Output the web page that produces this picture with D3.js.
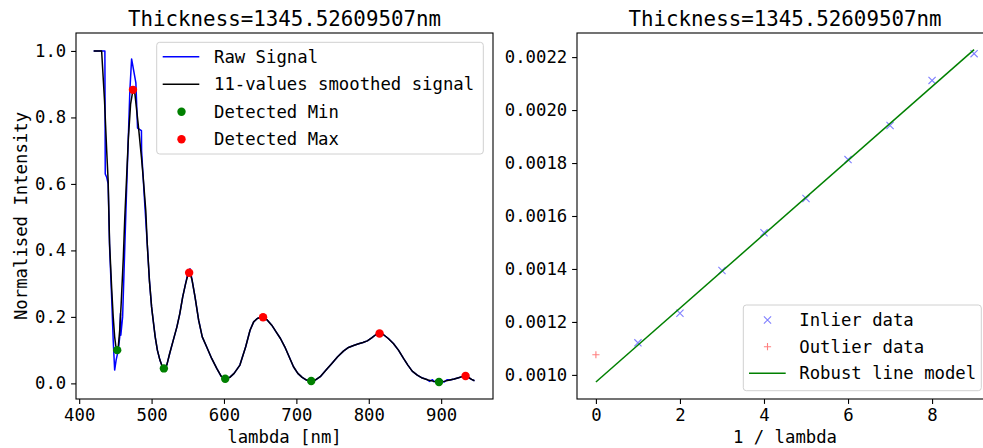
<!DOCTYPE html>
<html><head><meta charset="utf-8">
<script src="https://cdn.jsdelivr.net/npm/d3@7"></script>
<style>
html,body{margin:0;padding:0;background:#fff;}
svg{display:block;font-family:"DejaVu Sans Mono",monospace;}
</style></head>
<body>
<svg id="chart" width="983" height="448"></svg>
<script>
const titleText = "Thickness=1345.52609507nm";
// Left panel: spectrum
const rawLambda = [420,435.5,436,438,440,442,445,447,449,451,454,456,457,457.5,460,465,470,472.4,478.3,480.6,486,486.2,490,494,497,500,502.2,505,508,511.5,514,517,521,525,530,535,539,543,547,550,553,556,560,565,570,576,583,590,596,602,608,614,622,630,636,641,646,650,654,660,666,672,678,684,690,696,702,708,714,720,726,733,741,749,757,765,772,779,786,792,798,804,810,815,820,827,834,841,848,854,860,867,874,880,884,888,890,894,897,901,904,908,912,918,924,930,934,938,942,946];
const rawValue  = [1.0,1.0,0.63,0.62,0.60,0.41,0.25,0.13,0.04,0.07,0.10,0.14,0.21,0.145,0.20,0.55,0.88,0.976,0.904,0.768,0.76,0.70,0.56,0.42,0.31,0.23,0.19,0.14,0.10,0.07,0.055,0.045,0.055,0.09,0.13,0.17,0.21,0.26,0.30,0.33,0.345,0.31,0.26,0.19,0.14,0.11,0.075,0.045,0.022,0.014,0.018,0.03,0.055,0.11,0.16,0.185,0.195,0.198,0.2,0.19,0.175,0.155,0.135,0.11,0.08,0.05,0.03,0.018,0.01,0.007,0.01,0.02,0.04,0.06,0.08,0.097,0.108,0.114,0.119,0.123,0.128,0.137,0.147,0.152,0.147,0.135,0.12,0.10,0.075,0.055,0.037,0.025,0.016,0.012,0.006,0.011,0.005,0.009,0.003,0.008,0.004,0.011,0.01,0.013,0.017,0.021,0.023,0.017,0.012,0.008];
const smoothLambda = [420,431,435,438,440,442,445,447,449,451,452.5,454,456,458,461,463,465.5,468,471,474.3,477,481.5,486,488.4,492,494,497,500,502.2,505,508,511.5,514,517,521,525,530,535,539,543,547,550,553,556,560,565,570,576,583,590,596,602,608,614,622,630,636,641,646,650,654,660,666,672,678,684,690,696,702,708,714,720,726,733,741,749,757,765,772,779,786,792,798,804,810,815,820,827,834,841,848,854,860,867,874,882,890,897,904,912,918,924,930,934,938,942,946];
const smoothValue  = [1.0,1.0,0.85,0.70,0.61,0.42,0.28,0.20,0.14,0.105,0.10,0.11,0.16,0.24,0.38,0.50,0.62,0.74,0.84,0.883,0.87,0.78,0.68,0.62,0.52,0.42,0.31,0.23,0.19,0.14,0.10,0.07,0.055,0.045,0.055,0.09,0.13,0.17,0.21,0.26,0.30,0.325,0.333,0.31,0.26,0.19,0.14,0.11,0.075,0.045,0.022,0.014,0.018,0.03,0.055,0.11,0.16,0.185,0.195,0.198,0.199,0.19,0.175,0.155,0.135,0.11,0.08,0.05,0.03,0.018,0.01,0.007,0.01,0.02,0.04,0.06,0.08,0.097,0.108,0.114,0.119,0.123,0.128,0.137,0.147,0.15,0.147,0.135,0.12,0.10,0.075,0.055,0.037,0.025,0.016,0.01,0.006,0.004,0.006,0.01,0.013,0.017,0.021,0.022,0.018,0.012,0.008];
const minLambda = [452.5,517,601.7,720.5,897];
const minValue  = [0.10,0.045,0.014,0.007,0.004];
const maxLambda = [474.3,551.9,654,814.9,933.7];
const maxValue  = [0.883,0.333,0.199,0.15,0.022];
const leftXTicks = [400,500,600,700,800,900];
const leftYTicks = [0.0,0.2,0.4,0.6,0.8,1.0];
const leftLegend = ["Raw Signal","11-values smoothed signal","Detected Min","Detected Max"];
// Right panel: robust fit
const inlierX = [1,2,3,4,5,6,7,8,9];
const inlierY = [0.001121,0.001233,0.001394,0.001537,0.001666,0.001813,0.001942,0.002112,0.002213];
const outlierX = [0];
const outlierY = [0.001076];
const modelX = [0,9];
const modelY = [0.000973,0.002228];
const rightXTicks = [0,2,4,6,8];
const rightYTicks = [0.0010,0.0012,0.0014,0.0016,0.0018,0.0020,0.0022];
const rightLegend = ["Inlier data","Outlier data","Robust line model"];

const svg = d3.select("#chart");
const FS = 17.3;

function frame(x0,x1,y0,y1){
  svg.append("rect").attr("x",x0).attr("y",y0).attr("width",x1-x0).attr("height",y1-y0)
    .attr("fill","none").attr("stroke","#000").attr("stroke-width",1.1);
}
function axes(xs, ys, xt, yt, xf, yf, y1, x0){
  const gx = svg.append("g").attr("transform",`translate(0,${y1})`)
    .call(d3.axisBottom(xs).tickValues(xt).tickFormat(xf).tickSize(4.9).tickPadding(4.9));
  const gy = svg.append("g").attr("transform",`translate(${x0},0)`)
    .call(d3.axisLeft(ys).tickValues(yt).tickFormat(yf).tickSize(4.9).tickPadding(4.9));
  [gx,gy].forEach(g=>{
    g.select(".domain").remove();
    g.selectAll("line").attr("stroke","#000").attr("stroke-width",1.1);
    g.selectAll("text").attr("font-family","DejaVu Sans Mono").attr("font-size",FS).attr("fill","#000");
  });
}

// ---------- Left panel ----------
const L = {x0:76,x1:493,y0:33,y1:399};
const xL = d3.scaleLinear().domain([395.6,971.6]).range([L.x0,L.x1]);
const yL = d3.scaleLinear().domain([-0.047,1.054]).range([L.y1,L.y0]);
svg.append("defs").append("clipPath").attr("id","clipL").append("rect")
  .attr("x",L.x0).attr("y",L.y0).attr("width",L.x1-L.x0).attr("height",L.y1-L.y0);
const gL = svg.append("g").attr("clip-path","url(#clipL)");
const lineL = d3.line().x(d=>xL(d[0])).y(d=>yL(d[1]));
gL.append("path").datum(rawLambda.map((l,i)=>[l,rawValue[i]])).attr("d",lineL)
  .attr("fill","none").attr("stroke","#0000ff").attr("stroke-width",1.5).attr("stroke-linejoin","round");
gL.append("path").datum(smoothLambda.map((l,i)=>[l,smoothValue[i]])).attr("d",lineL)
  .attr("fill","none").attr("stroke","#000").attr("stroke-width",1.5).attr("stroke-linejoin","round");
gL.selectAll(".mn").data(minLambda.map((l,i)=>[l,minValue[i]])).enter().append("circle")
  .attr("cx",d=>xL(d[0])).attr("cy",d=>yL(d[1])).attr("r",4.2).attr("fill","#008000");
gL.selectAll(".mx").data(maxLambda.map((l,i)=>[l,maxValue[i]])).enter().append("circle")
  .attr("cx",d=>xL(d[0])).attr("cy",d=>yL(d[1])).attr("r",4.2).attr("fill","#ff0000");
frame(L.x0,L.x1,L.y0,L.y1);
axes(xL,yL,leftXTicks,leftYTicks,d3.format("d"),d3.format(".1f"),L.y1,L.x0);
svg.append("text").attr("x",(L.x0+L.x1)/2).attr("y",26).attr("text-anchor","middle")
  .attr("font-size",20.8).text(titleText);
svg.append("text").attr("x",(L.x0+L.x1)/2).attr("y",443).attr("text-anchor","middle")
  .attr("font-size",FS).text("lambda [nm]");
svg.append("text").attr("transform",`translate(27,${(L.y0+L.y1)/2}) rotate(-90)`).attr("text-anchor","middle")
  .attr("font-size",FS).text("Normalised Intensity");

// left legend
const lg = svg.append("g");
lg.append("rect").attr("x",156.7).attr("y",42.3).attr("width",326.6).attr("height",111.7).attr("rx",3)
  .attr("fill","#fff").attr("fill-opacity",0.8).attr("stroke","#d0d0d0").attr("stroke-width",1);
const lgY = [56.7,84.3,111.7,139.3];
lg.append("line").attr("x1",162.7).attr("x2",199.3).attr("y1",lgY[0]).attr("y2",lgY[0]).attr("stroke","#0000ff").attr("stroke-width",1.5);
lg.append("line").attr("x1",162.7).attr("x2",199.3).attr("y1",lgY[1]).attr("y2",lgY[1]).attr("stroke","#000").attr("stroke-width",1.5);
lg.append("circle").attr("cx",181.5).attr("cy",lgY[2]).attr("r",4.2).attr("fill","#008000");
lg.append("circle").attr("cx",181.5).attr("cy",lgY[3]).attr("r",4.2).attr("fill","#ff0000");
leftLegend.forEach((t,i)=>lg.append("text").attr("x",214).attr("y",lgY[i]+6).attr("font-size",FS).text(t));

// ---------- Right panel ----------
const R = {x0:577,x1:993,y0:33,y1:399};
const xR = d3.scaleLinear().domain([-0.45,9.45]).range([R.x0,R.x1]);
const yR = d3.scaleLinear().domain([0.000909,0.002291]).range([R.y1,R.y0]);
svg.select("defs").append("clipPath").attr("id","clipR").append("rect")
  .attr("x",R.x0).attr("y",R.y0).attr("width",R.x1-R.x0).attr("height",R.y1-R.y0);
const gR = svg.append("g").attr("clip-path","url(#clipR)");
const s = 3.6;
inlierX.forEach((x,i)=>{
  const cx=xR(x), cy=yR(inlierY[i]);
  gR.append("path").attr("d",`M${cx-s},${cy-s}L${cx+s},${cy+s}M${cx-s},${cy+s}L${cx+s},${cy-s}`)
    .attr("stroke","#0000ff").attr("stroke-opacity",0.5).attr("stroke-width",1.1).attr("fill","none");
});
outlierX.forEach((x,i)=>{
  const cx=xR(x), cy=yR(outlierY[i]);
  gR.append("path").attr("d",`M${cx-s},${cy}L${cx+s},${cy}M${cx},${cy-s}L${cx},${cy+s}`)
    .attr("stroke","#ff0000").attr("stroke-opacity",0.5).attr("stroke-width",1.1).attr("fill","none");
});
gR.append("path").datum(modelX.map((x,i)=>[x,modelY[i]]))
  .attr("d",d3.line().x(d=>xR(d[0])).y(d=>yR(d[1])))
  .attr("fill","none").attr("stroke","#008000").attr("stroke-width",1.5);
frame(R.x0,R.x1,R.y0,R.y1);
axes(xR,yR,rightXTicks,rightYTicks,d3.format("d"),d3.format(".4f"),R.y1,R.x0);
svg.append("text").attr("x",(R.x0+R.x1)/2).attr("y",26).attr("text-anchor","middle")
  .attr("font-size",20.8).text(titleText);
svg.append("text").attr("x",(R.x0+R.x1)/2).attr("y",443).attr("text-anchor","middle")
  .attr("font-size",FS).text("1 / lambda");

// right legend
const rg = svg.append("g");
rg.append("rect").attr("x",743.3).attr("y",305).attr("width",238).attr("height",85.7).attr("rx",3)
  .attr("fill","#fff").attr("fill-opacity",0.8).attr("stroke","#d0d0d0").attr("stroke-width",1);
const rgY = [320,346.7,373.3];
{
  const cx=767.5, cy=rgY[0];
  rg.append("path").attr("d",`M${cx-s},${cy-s}L${cx+s},${cy+s}M${cx-s},${cy+s}L${cx+s},${cy-s}`)
    .attr("stroke","#0000ff").attr("stroke-opacity",0.5).attr("stroke-width",1.1);
  const cy2=rgY[1];
  rg.append("path").attr("d",`M${cx-s},${cy2}L${cx+s},${cy2}M${cx},${cy2-s}L${cx},${cy2+s}`)
    .attr("stroke","#ff0000").attr("stroke-opacity",0.5).attr("stroke-width",1.1);
  rg.append("line").attr("x1",749).attr("x2",785.7).attr("y1",rgY[2]).attr("y2",rgY[2])
    .attr("stroke","#008000").attr("stroke-width",1.5);
}
rightLegend.forEach((t,i)=>rg.append("text").attr("x",799.3).attr("y",rgY[i]+6).attr("font-size",FS).text(t));
</script>
</body></html>
